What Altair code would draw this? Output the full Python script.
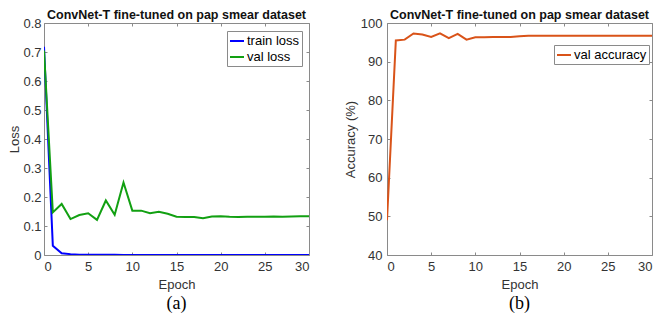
import altair as alt
import pandas as pd

epochs = list(range(31))
train_loss = [0.718, 0.032, 0.006, 0.003, 0.001, 0.0008, 0.0006, 0.0005, 0.0005, 0.0004,
              0.0004, 0.0003, 0.0004, 0.0003, 0.0003, 0.0003, 0.0004, 0.0003, 0.0003, 0.0003,
              0.0003, 0.0003, 0.0003, 0.0003, 0.0003, 0.0003, 0.0003, 0.0003, 0.0003, 0.0003, 0.0003]
val_loss = [0.705, 0.147, 0.176, 0.124, 0.138, 0.144, 0.121, 0.188, 0.139, 0.250,
            0.153, 0.153, 0.144, 0.149, 0.142, 0.132, 0.131, 0.131, 0.127, 0.133,
            0.134, 0.132, 0.131, 0.132, 0.132, 0.132, 0.133, 0.132, 0.133, 0.134, 0.134]
val_acc = [49.0, 95.5, 95.7, 97.3, 97.0, 96.4, 97.3, 96.1, 97.2, 95.7,
           96.3, 96.3, 96.4, 96.4, 96.4, 96.6, 96.7, 96.7, 96.7, 96.7,
           96.7, 96.7, 96.7, 96.7, 96.7, 96.7, 96.7, 96.7, 96.7, 96.7, 96.7]

loss_series = ["train loss", "val loss"]
loss_colors = ["#0000ff", "#12a012"]
acc_series = ["val accuracy"]
acc_colors = ["#d95319"]
title_text = "ConvNet-T fine-tuned on pap smear dataset"
captions = ["(a)", "(b)"]
x_ticks = [0, 5, 10, 15, 20, 25, 30]
loss_ticks = [0, 0.1, 0.2, 0.3, 0.4, 0.5, 0.6, 0.7, 0.8]
acc_ticks = [40, 50, 60, 70, 80, 90, 100]

W, H = 265, 232
FONT = "Liberation Sans"
LBL = "#333333"
BOX = "#8a8a8a"

loss_df = pd.DataFrame({
    "Epoch": epochs * 2,
    "value": train_loss + val_loss,
    "series": [loss_series[0]] * 31 + [loss_series[1]] * 31,
})
acc_df = pd.DataFrame({"Epoch": epochs, "value": val_acc, "series": [acc_series[0]] * 31})


def x_axis():
    return alt.Axis(values=x_ticks, title="Epoch", domain=False, ticks=False,
                    grid=True, gridDash=[3, H - 6, 3, 2000], gridColor=BOX, gridOpacity=1,
                    labelPadding=5, titlePadding=5, labelAngle=0)


def y_axis(title, vals, fmt, lp, tp):
    return alt.Axis(values=vals, title=title, format=fmt, domain=False, ticks=False,
                    grid=True, gridDash=[3, W - 6, 3, 2000], gridColor=BOX, gridOpacity=1,
                    labelPadding=lp, titlePadding=tp)


def legend(lx, ly):
    return alt.Legend(title=None, orient="none", legendX=lx, legendY=ly,
                      symbolType="stroke", symbolSize=196, symbolStrokeWidth=2,
                      labelFontSize=13, labelFont=FONT, labelColor="#000000",
                      fillColor="white", strokeColor=BOX, padding=2, rowPadding=1,
                      labelOffset=2)


def caption(txt):
    return alt.Chart(pd.DataFrame({"t": [txt]})).mark_text(
        font="Liberation Serif", fontSize=18, color="#000000", baseline="middle"
    ).encode(text="t:N", x=alt.value(W / 2), y=alt.value(H + 49))


loss_lines = alt.Chart(loss_df).mark_line(strokeWidth=2, clip=True).encode(
    x=alt.X("Epoch:Q", scale=alt.Scale(domain=[0, 30], nice=False), axis=x_axis()),
    y=alt.Y("value:Q", scale=alt.Scale(domain=[0, 0.8], nice=False),
            axis=y_axis("Loss", loss_ticks, ".1~f", 3, 1)),
    color=alt.Color("series:N", scale=alt.Scale(domain=loss_series, range=loss_colors),
                    legend=legend(W - 82, 8)),
)

acc_lines = alt.Chart(acc_df).mark_line(strokeWidth=2, clip=True).encode(
    x=alt.X("Epoch:Q", scale=alt.Scale(domain=[0, 30], nice=False), axis=x_axis()),
    y=alt.Y("value:Q", scale=alt.Scale(domain=[40, 100], nice=False),
            axis=y_axis("Accuracy (%)", acc_ticks, "d", 5, 3)),
    color=alt.Color("series:N", scale=alt.Scale(domain=acc_series, range=acc_colors),
                    legend=legend(W - 98, 22)),
)

left = alt.layer(loss_lines, caption(captions[0])).properties(width=W, height=H, title=title_text)
right = alt.layer(acc_lines, caption(captions[1])).properties(width=W, height=H, title=title_text)

chart = alt.hconcat(left, right, spacing=33).resolve_scale(
    color="independent"
).properties(
    padding={"left": 0, "top": 0, "right": 0, "bottom": 0}
).configure_view(
    stroke=BOX, strokeWidth=1
).configure_axis(
    labelFont=FONT, labelFontSize=13, labelColor=LBL,
    titleFont=FONT, titleFontSize=13, titleFontWeight="normal", titleColor=LBL,
).configure_title(
    font=FONT, fontSize=12.5, fontWeight="bold", color="#111111", offset=-4, anchor="middle"
)

chart.save("out.html", embed_options={"renderer": "svg", "actions": False})
